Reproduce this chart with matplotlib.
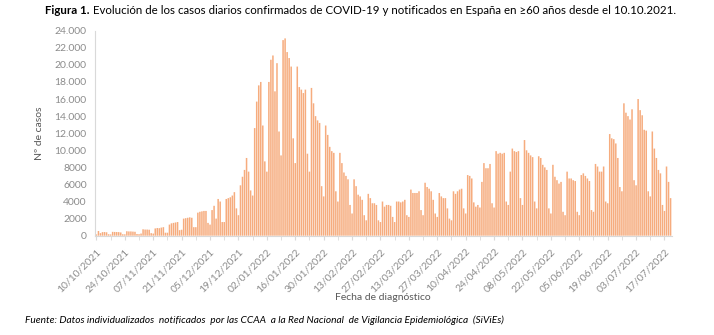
import numpy as np
import pandas as pd
import matplotlib
matplotlib.use("Agg")
import matplotlib.pyplot as plt
from matplotlib.ticker import FuncFormatter

# Casos diarios en >=60 años por fecha de diagnóstico (desde el 10/10/2021)
oct_2021 = [150, 550, 300, 420, 430, 400, 170,
            150, 450, 440, 430, 420, 380, 170,
            160, 520, 500, 500, 480, 460, 200,
            180]
nov_2021 = [250, 750, 720, 720, 700, 300,
            250, 850, 900, 880, 950, 1000, 350,
            350, 1300, 1450, 1500, 1550, 1600, 650,
            700, 2000, 2050, 2100, 2150, 2100, 1000,
            1000, 2700, 2800]
dic_2021 = [2850, 2900, 2900, 1500,
            1300, 3000, 3500, 2000, 4300, 4000, 1600,
            1600, 4300, 4400, 4500, 4700, 5100, 3200,
            2400, 5900, 6900, 7700, 9100, 7500, 5300,
            4700, 12600, 15700, 17600, 18000, 12900]
ene_2022 = [8700,
            7500, 18000, 20600, 21100, 16900, 20200, 12200,
            9400, 22900, 23100, 21500, 20800, 19800, 11400,
            8500, 19800, 17400, 17100, 16700, 17100, 9600,
            7500, 17300, 15500, 14000, 13500, 13200, 5800,
            4600, 12900]
feb_2022 = [11800, 10400, 9900, 9700, 5200,
            4000, 9700, 8500, 7400, 7000, 6600, 3600,
            2600, 6600, 5800, 4800, 4600, 4200, 2400,
            1800, 4900, 4400, 3800, 3800, 3600, 1800,
            1600, 4000]
mar_2022 = [3400, 3600, 3600, 3500, 2200,
            1600, 4000, 4000, 3900, 4000, 4200, 2400,
            2200, 5400, 5000, 5000, 5000, 5200, 3000,
            2400, 6200, 5700, 5500, 5200, 4200, 2600,
            2200, 5000, 4600, 4400, 4400]
abr_2022 = [3200, 2000,
            1800, 5200, 4900, 5200, 5400, 5500, 3200,
            2600, 7100, 7000, 6700, 3900, 3400, 3600,
            3300, 6300, 8500, 7900, 7900, 8400, 3800,
            3300, 9900, 9600, 9700, 9600, 9700, 4000]
may_2022 = [3600, 7500, 10200, 9900, 9800, 9900, 4400,
            3600, 11200, 10000, 9700, 9400, 9200, 4000,
            3200, 9300, 9100, 8300, 8000, 7700, 3200,
            2600, 8300, 6900, 6500, 6100, 6300, 2800,
            2400, 7500, 6700]
jun_2022 = [6700, 6500, 6400, 2800,
            2400, 7100, 7300, 7000, 6700, 6400, 3000,
            2800, 8400, 8100, 7500, 7500, 8100, 4000,
            3800, 11900, 11400, 11300, 10800, 9100, 5700,
            5200, 15500, 14400, 14000, 13600]
jul_2022 = [14800, 6500,
            5900, 16000, 14700, 14100, 12400, 12300, 5200,
            4600, 12200, 10200, 9100, 7700, 7300, 3600,
            2900, 8100, 6300, 4400]

casos = np.array(oct_2021 + nov_2021 + dic_2021 + ene_2022 + feb_2022
                 + mar_2022 + abr_2022 + may_2022 + jun_2022 + jul_2022)
fechas = pd.date_range("2021-10-10", periods=len(casos), freq="D")
dias = np.arange(len(casos))

plt.rcParams['font.family'] = ['Lato', 'DejaVu Sans']

W, H = 714, 335
fig = plt.figure(figsize=(W / 100, H / 100), dpi=100)
ax = fig.add_axes([95 / W, 1 - 235.7 / H, (672 - 95) / W, (235.7 - 30.7) / H])

# sin snap para que las barras de ~2 px salgan todas iguales
ax.bar(dias, casos, width=0.75, color='#F6AC7E', linewidth=0, snap=False)

ax.set_xlim(-0.7, len(casos) - 0.3)
ax.set_ylim(0, 24000)
ax.set_yticks(np.arange(0, 24001, 2000))


def miles(v, pos):
    # formato español: punto de miles sólo a partir de 10.000
    v = int(round(v))
    return f"{v:,}".replace(",", ".") if v >= 10000 else str(v)


ax.yaxis.set_major_formatter(FuncFormatter(miles))
ax.tick_params(axis='y', length=0, labelsize=7.5, labelcolor='#8C8C8C', pad=6)

ax.set_xticks(dias[::14])
ax.set_xticklabels([f.strftime("%d/%m/%Y") for f in fechas[::14]],
                   rotation=45, ha='right', rotation_mode='anchor')
ax.set_xticks(dias[7::14], minor=True)
ax.tick_params(axis='x', which='both', length=3, color='#D9D9D9',
               labelsize=7.5, labelcolor='#8C8C8C', pad=5)

for lado in ['top', 'right']:
    ax.spines[lado].set_visible(False)
for lado in ['left', 'bottom']:
    ax.spines[lado].set_color('#D9D9D9')
    ax.spines[lado].set_linewidth(0.8)

fig.text(40 / W, 1 - 133 / H, "Nº de casos", rotation=90, ha='center', va='center',
         fontsize=7.5, color='#595959')
fig.text(383 / W, 1 - 298 / H, "Fecha de diagnóstico", ha='center', va='center',
         fontsize=7.5, color='#595959')

# título: "Figura 1." en negrita seguido del texto normal
r = fig.canvas.get_renderer()
t1 = fig.text(45 / W, 1 - 11 / H, "Figura 1.", fontsize=8.3, fontweight='bold',
              ha='left', va='center', color='black')
bb = t1.get_window_extent(renderer=r)
fig.text((bb.x1 + 3) / W, 1 - 11 / H,
         "Evolución de los casos diarios confirmados de COVID-19 y notificados en España en ≥60 años desde el 10.10.2021.",
         fontsize=8.3, ha='left', va='center', color='black')

fig.text(25 / W, 1 - 320 / H,
         "Fuente: Datos individualizados  notificados  por las CCAA  a la Red Nacional  de Vigilancia Epidemiológica  (SiViEs)",
         fontsize=7.3, style='italic', ha='left', va='center', color='black')

fig.savefig("out.png", dpi=100)
